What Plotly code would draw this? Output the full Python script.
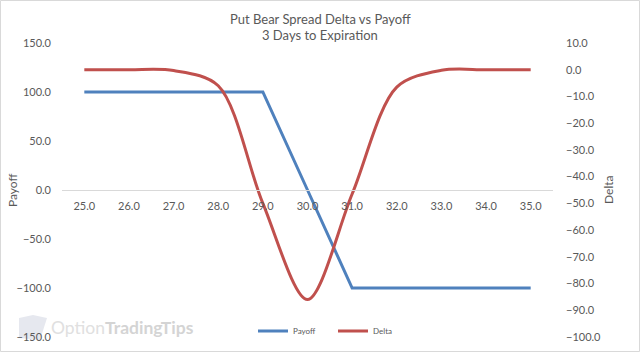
import plotly.graph_objects as go

prices = [25.0, 26.0, 27.0, 28.0, 29.0, 30.0, 31.0, 32.0, 33.0, 34.0, 35.0]
payoff = [100, 100, 100, 100, 100, 0, -100, -100, -100, -100, -100]
delta = [0.0, 0.0, -0.3, -6.0, -50.0, -86.0, -46.5, -6.5, -0.2, 0.0, 0.0]

W, H = 640, 352
L, R, T, B = 62, 87, 43, 15
pw, ph = W - L - R, H - T - B
FONT = "Lato"
TXT = "#595959"

def px(x):
    return (x - L) / pw

def py(y):
    return (H - B - y) / ph

fig = go.Figure()
fig.add_trace(go.Scatter(x=prices, y=payoff, name="Payoff", mode="lines",
                         line=dict(color="#4f81bd", width=3), yaxis="y"))
fig.add_trace(go.Scatter(x=prices, y=delta, name="Delta", mode="lines",
                         line=dict(color="#c0504d", width=3, shape="spline", smoothing=0.9),
                         yaxis="y2"))

fig.update_layout(
    width=W, height=H,
    margin=dict(l=L, r=R, t=T, b=B, autoexpand=False),
    paper_bgcolor="white", plot_bgcolor="white",
    font=dict(family=FONT, color=TXT, size=11),
    xaxis=dict(range=[24.5, 35.5], tickvals=prices, tickformat=".1f",
               showgrid=False, zeroline=False, showline=True, linecolor="#d9d9d9",
               linewidth=1, anchor="free", position=0.5, ticks="", automargin=False,
               ticklabelstandoff=6, tickfont=dict(size=11, color=TXT)),
    yaxis=dict(range=[-150, 150], dtick=50, tickformat=".1f", showgrid=False,
               zeroline=False, showline=False, ticks="", ticklabelstandoff=10,
               automargin=False, tickfont=dict(size=11, color=TXT)),
    yaxis2=dict(range=[-100, 10], dtick=10, tickformat=".1f", overlaying="y",
                side="right", showgrid=False, zeroline=False, showline=False,
                ticks="", ticklabelstandoff=12, automargin=False,
                tickfont=dict(size=11, color=TXT)),
    showlegend=True,
    legend=dict(orientation="h", x=px(253), xanchor="left", y=py(331), yanchor="middle",
                font=dict(size=8, color=TXT), bgcolor="rgba(0,0,0,0)",
                itemwidth=30, tracegroupgap=0, entrywidth=35, entrywidthmode="pixels"),
)

# titles
fig.add_annotation(xref="paper", yref="paper", x=px(320), y=py(19), showarrow=False,
                   text="Put Bear Spread Delta vs Payoff", xanchor="center", yanchor="middle",
                   font=dict(family=FONT, size=13, color=TXT))
fig.add_annotation(xref="paper", yref="paper", x=px(320), y=py(35), showarrow=False,
                   text="3 Days to Expiration", xanchor="center", yanchor="middle",
                   font=dict(family=FONT, size=13, color=TXT))
fig.add_annotation(xref="paper", yref="paper", x=px(12), y=py(190), showarrow=False,
                   text="Payoff", textangle=-90, xanchor="center", yanchor="middle",
                   font=dict(family=FONT, size=12, color=TXT))
fig.add_annotation(xref="paper", yref="paper", x=px(608), y=py(190), showarrow=False,
                   text="Delta", textangle=-90, xanchor="center", yanchor="middle",
                   font=dict(family=FONT, size=12, color=TXT))

# watermark
fig.add_annotation(xref="paper", yref="paper", x=px(49), y=py(327), xanchor="left",
                   yanchor="middle", showarrow=False,
                   text="<span style='color:#e0e0e0'>Option</span><b><span style='color:#d4d4d4'>TradingTips</span></b>",
                   font=dict(family=FONT, size=17.5))
fig.add_shape(type="path", xref="paper", yref="paper",
              path=f"M {px(19)} {py(338)} L {px(19)} {py(318)} L {px(33)} {py(315)} L {px(47)} {py(318)} L {px(40)} {py(340)} Z",
              fillcolor="#e6e8ef", line=dict(width=0), layer="below")
# chart border
fig.add_shape(type="rect", xref="paper", yref="paper",
              x0=px(0.5), x1=px(W - 0.5), y0=py(H - 0.5), y1=py(0.5),
              line=dict(color="#d9d9d9", width=1))

fig.write_html("out.html")
